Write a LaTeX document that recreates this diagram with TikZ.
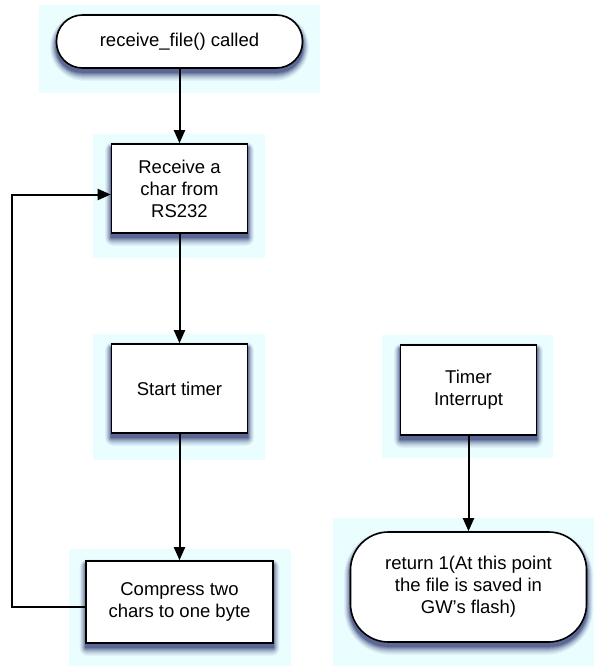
\documentclass[tikz,border=0pt]{standalone}
\usepackage{fontspec}
\setmainfont{Liberation Sans}
\usetikzlibrary{arrows.meta}
\definecolor{halo}{RGB}{234,253,255}
\definecolor{shade}{RGB}{40,50,110}
\tikzset{
  halo/.style={fill=halo,draw=none},
  card/.style={draw=black,line width=1.6pt,fill=white,align=center,
    font=\fontsize{18.5}{22}\selectfont,inner sep=0pt},
  proc/.style={card,rectangle},
  term/.style={card,rectangle,rounded corners=#1},
  flow/.style={line width=2pt,-{Triangle[length=13pt,width=11pt]}}
}
% soft shadow under a node: nested fills fading from the shadow tone to the panel tone
\newcommand\castshade[2]{%
  \foreach \k/\c in {8/6,7/11,6/17,5/24,4/32,3/41,2/51,1/62,0/74}{%
    \pgfmathsetmacro\rr{#2+\k+0.01}%
    \pgfmathsetmacro\kx{0.7*\k}%
    \fill[shade!\c!halo,rounded corners=\rr pt]
      ([xshift=-\kx pt,yshift=-4pt-\k pt]#1.south west) rectangle
      ([xshift=\kx pt,yshift=-4pt+0.6*\k pt]#1.north east);
  }%
}
\begin{document}
\begin{tikzpicture}[x=1pt,y=-1pt]
  \useasboundingbox (0,0) rectangle (594,666);
  % pale highlight panels behind each step
  \fill[halo] (39,5) rectangle (320,93);
  \fill[halo] (93,134) rectangle (265,258);
  \fill[halo] (93,334) rectangle (265,460);
  \fill[halo] (69,549) rectangle (291,666);
  \fill[halo] (382,335) rectangle (553,458);
  \fill[halo] (333,518) rectangle (594,666);

  % step outlines, placed first so that their shadows go underneath
  \begin{scope}[every node/.append style={draw=none,fill=none,text opacity=0}]
    \node[term=26pt,minimum width=246pt,minimum height=53pt] (start) at (179.5,41.5) {};
    \node[proc,minimum width=136pt,minimum height=89pt] (recv) at (179.5,188.5) {};
    \node[proc,minimum width=136pt,minimum height=89pt] (timer) at (179.5,388.5) {};
    \node[proc,minimum width=187pt,minimum height=82pt] (pack) at (179.5,602) {};
    \node[proc,minimum width=136pt,minimum height=90pt] (irq) at (468.5,390) {};
    \node[term=38pt,minimum width=236pt,minimum height=110pt] (done) at (468.5,587) {};
  \end{scope}
  \castshade{start}{26}
  \castshade{recv}{0}
  \castshade{timer}{0}
  \castshade{pack}{0}
  \castshade{irq}{0}
  \castshade{done}{38}

  % steps
  \node[term=26pt,minimum width=246pt,minimum height=53pt] at (start) {receive\_file() called};
  \node[proc,minimum width=136pt,minimum height=89pt] at (recv) {Receive a\\char from\\RS232};
  \node[proc,minimum width=136pt,minimum height=89pt] at (timer) {Start timer};
  \node[proc,minimum width=187pt,minimum height=82pt] at (pack) {Compress two\\chars to one byte};
  \node[proc,minimum width=136pt,minimum height=90pt] at (irq) {Timer\\Interrupt};
  \node[term=38pt,minimum width=236pt,minimum height=110pt] at (done) {return 1(At this point\\the file is saved in\\GW's flash)};

  % connectors
  \coordinate (loopbot) at (11.5,606.5);
  \coordinate (looptop) at (11.5,194.5);
  \draw[flow] (start) -- (recv);
  \draw[flow] (recv) -- (timer);
  \draw[flow] (timer) -- (pack);
  \draw[flow] (irq) -- (done);
  \draw[flow] ([yshift=-4.5pt]pack.west) -- (loopbot) -- (looptop) -- (recv.west |- looptop);
\end{tikzpicture}
\end{document}
